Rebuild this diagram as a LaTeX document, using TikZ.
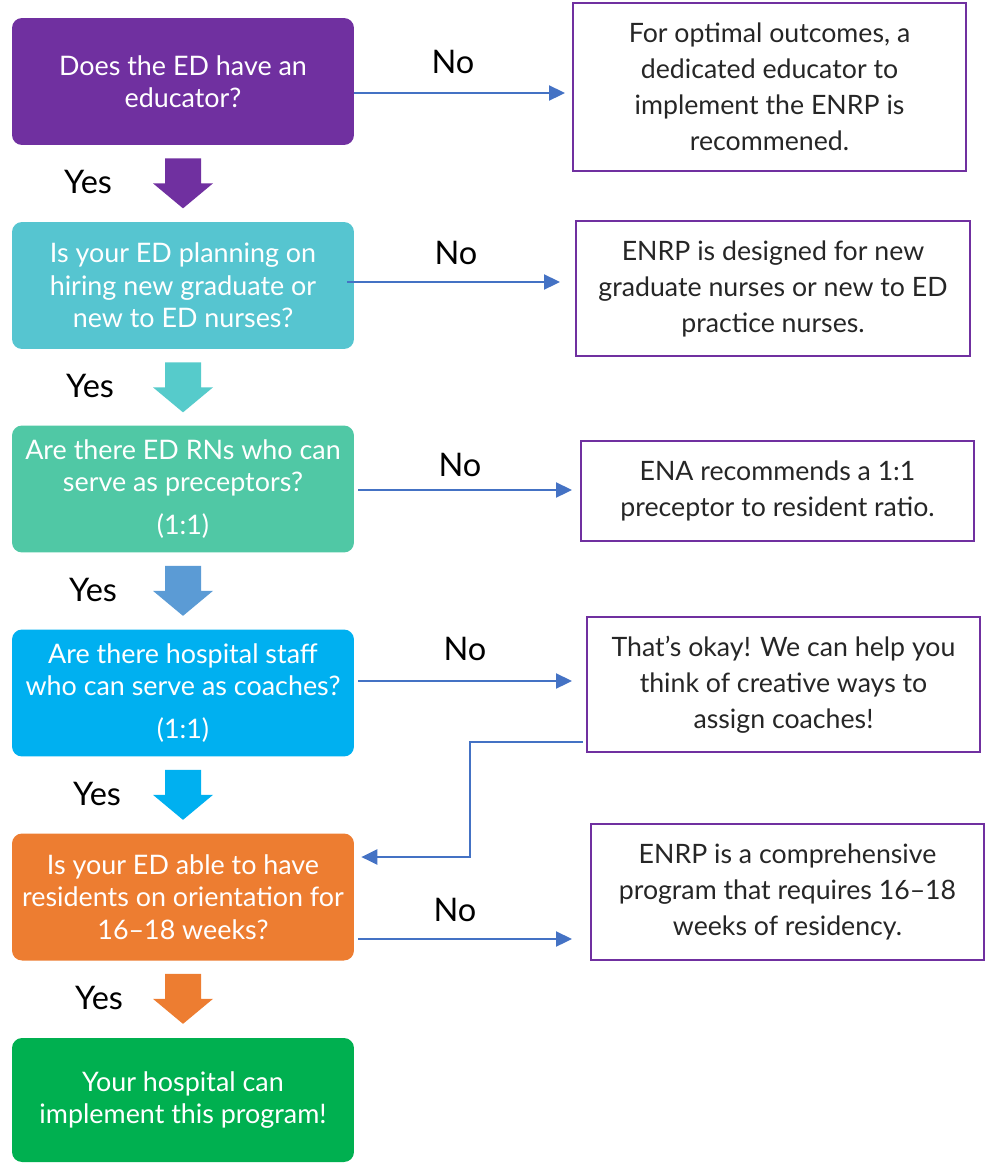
\documentclass[tikz,border=0pt]{standalone}
\usepackage{fontspec}
\setmainfont{Lato}
\usetikzlibrary{calc,arrows.meta}

\definecolor{cPurple}{HTML}{7030A0}
\definecolor{cTeal}{HTML}{56C5D0}
\definecolor{cSea}{HTML}{50C8A5}
\definecolor{cSky}{HTML}{00B0F0}
\definecolor{cOrange}{HTML}{ED7D31}
\definecolor{cGreen}{HTML}{00B050}
\definecolor{cTealArrow}{HTML}{56CBCB}
\definecolor{cSteel}{HTML}{5B9BD5}
\definecolor{cLink}{HTML}{4472C4}
\definecolor{cInk}{HTML}{262626}

\begin{document}
\begin{tikzpicture}[x=0.02cm,y=-0.02cm,
  question/.style={rounded corners=0.2cm, minimum width=6.84cm, minimum height=2.54cm,
    inner sep=0pt, align=center, text=white, font=\fontsize{15.3}{18.5}\selectfont},
  answer/.style={draw=cPurple, line width=1.1pt, inner sep=0pt, align=center,
    text=cInk, font=\fontsize{15.2}{20.5}\selectfont},
  link/.style={draw=cLink, line width=1.3pt, -{Triangle[length=0.32cm,width=0.3cm]}},
  branch/.style={font=\fontsize{18.5}{20}\selectfont, text=black}]
\useasboundingbox (0,0) rectangle (987,1163);

% question boxes
\node[question, fill=cPurple] (q1) at (183,81.5) {Does the ED have an\\educator?};
\node[question, fill=cTeal] (q2) at (183,285.5) {Is your ED planning on\\hiring new graduate or\\new to ED nurses?};
\node[question, fill=cSea] (q3) at (183,489) {Are there ED RNs who can\\serve as preceptors?\\[6pt](1:1)};
\node[question, fill=cSky] (q4) at (183,693) {Are there hospital staff\\who can serve as coaches?\\[6pt](1:1)};
\node[question, fill=cOrange] (q5) at (183,897) {Is your ED able to have\\residents on orientation for\\16--18 weeks?};
\node[question, fill=cGreen, minimum height=2.48cm] (q6) at (183,1100) {Your hospital can\\implement this program!};

% answer boxes
\node[answer, minimum width=7.86cm, minimum height=3.36cm] (r1) at (769.5,87)
  {For optimal outcomes, a\\dedicated educator to\\implement the ENRP is\\recommened.};
\node[answer, minimum width=7.88cm, minimum height=2.7cm] (r2) at (773,288.5)
  {ENRP is designed for new\\graduate nurses or new to ED\\practice nurses.};
\node[answer, minimum width=7.86cm, minimum height=2cm] (r3) at (777.5,491)
  {ENA recommends a 1:1\\preceptor to resident ratio.};
\node[answer, minimum width=7.86cm, minimum height=2.7cm] (r4) at (783.5,684.5)
  {That’s okay! We can help you\\think of creative ways to\\assign coaches!};
\node[answer, minimum width=7.86cm, minimum height=2.72cm] (r5) at (787.5,892)
  {ENRP is a comprehensive\\program that requires 16--18\\weeks of residency.};

% yes arrows
\foreach \from/\to/\col/\dx [count=\i] in {q1/q2/cPurple/-95, q2/q3/cTealArrow/-93, q3/q4/cSteel/-90, q4/q5/cSky/-86, q5/q6/cOrange/-84}{
  \fill[\col] ($(\from.south)+(-18,13)$) -- ++(36,0) -- ++(0,25) -- ++(12,0)
    -- ++(-30,25) -- ++(-30,-25) -- ++(12,0) -- cycle;
  \node[branch] (yes\i) at ($(\from.south)+(\dx,37)$) {Yes};
}

% no arrows
\draw[link] (354,93) -- (565,93);
\node[branch] (no1) at (453,62) {No};
\draw[link] (347,282) -- (560,282);
\node[branch] (no2) at (456,253) {No};
\draw[link] (358,490) -- (572,490);
\node[branch] (no3) at (460,465) {No};
\draw[link] (358,681) -- (572,681);
\node[branch] (no4) at (465,649) {No};
\draw[link] (358,939) -- (572,939);
\node[branch] (no5) at (455,910) {No};

% back to the orientation question
\coordinate (bend) at (470,742);
\draw[link] (583,742) -- (bend) -- (bend |- 0,857) -- ([xshift=4]q5.east |- 0,857);
\end{tikzpicture}
\end{document}
